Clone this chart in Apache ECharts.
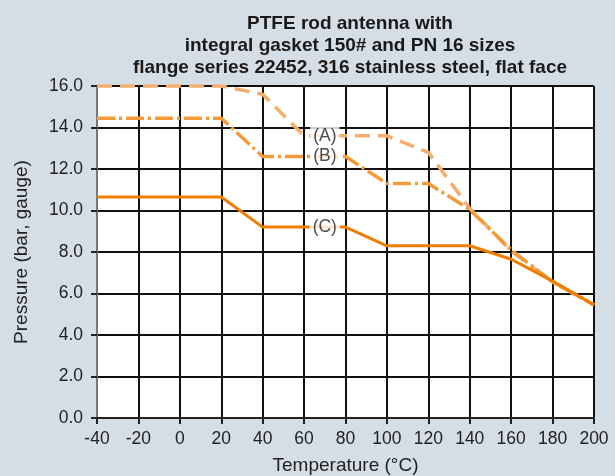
<!DOCTYPE html>
<html>
<head>
<meta charset="utf-8">
<script src="https://cdn.jsdelivr.net/npm/echarts@6/dist/echarts.min.js"></script>
<style>
  html, body { margin: 0; padding: 0; background: #d6dee5; }
  #chart { width: 615px; height: 476px; }
</style>
</head>
<body>
<div id="chart"></div>
<script>
// temperatures (°C) shared by all three curves
const temps = [-40, 20, 40, 60, 80, 100, 120, 140, 160, 180, 200]
// pressure (bar, gauge)
const curveA = [16.0, 16.0, 15.6, 13.6, 13.6, 13.6, 12.8, 10.1, 8.05, 6.55, 5.45]
const curveB = [14.45, 14.45, 12.6, 12.6, 12.6, 11.3, 11.3, 10.05, 8.1, 6.55, 5.45]
const curveC = [10.65, 10.65, 9.2, 9.2, 9.2, 8.3, 8.3, 8.3, 7.65, 6.6, 5.45]
// curve labels sit on the lines at 70 °C
const labelNames = ['(A)', '(B)', '(C)']
const labelTemp = 70
const labelPress = [13.6, 12.6, 9.2]

const titleText = 'PTFE rod antenna with\nintegral gasket 150# and PN 16 sizes\nflange series 22452, 316 stainless steel, flat face'

const toPairs = (ys) => temps.map((t, i) => [t, ys[i]])

const chart = echarts.init(document.getElementById('chart'))

const font = 'Liberation Sans, Arial, sans-serif'

chart.setOption({
  backgroundColor: '#d6dee5',
  animation: false,
  title: {
    text: titleText,
    left: 345,
    textAlign: 'center',
    top: 8,
    textStyle: { fontFamily: font, fontSize: 19, fontWeight: 'bold', color: '#1a1a1a', lineHeight: 22 }
  },
  grid: {
    left: 97,
    right: 21,
    top: 86,
    bottom: 58,
    outerBoundsMode: 'none',
    show: true,
    backgroundColor: '#fff',
    borderWidth: 0
  },
  xAxis: {
    type: 'value',
    min: -40,
    max: 200,
    interval: 20,
    name: 'Temperature (°C)',
    nameLocation: 'middle',
    nameGap: 38,
    nameTextStyle: { fontFamily: font, fontSize: 19, color: '#222' },
    axisLine: { show: true, lineStyle: { color: '#222', width: 2 } },
    axisTick: { show: true, length: 6, lineStyle: { color: '#222', width: 2 } },
    axisLabel: { fontFamily: font, fontSize: 17.5, color: '#222', margin: 12 },
    splitLine: { show: true, lineStyle: { color: '#111', width: 2 } }
  },
  yAxis: {
    type: 'value',
    min: 0,
    max: 16,
    interval: 2,
    name: 'Pressure (bar, gauge)',
    nameLocation: 'middle',
    nameRotate: 90,
    nameGap: 66,
    nameTextStyle: { fontFamily: font, fontSize: 19, color: '#222' },
    axisLine: { show: true, onZero: false, lineStyle: { color: '#777', width: 2 } },
    axisTick: { show: true, length: 6, lineStyle: { color: '#222', width: 2 } },
    axisLabel: {
      fontFamily: font, fontSize: 17.5, color: '#222', margin: 14,
      formatter: v => v.toFixed(1)
    },
    splitLine: { show: true, lineStyle: { color: '#111', width: 2 } }
  },
  series: [
    {
      name: 'A',
      type: 'line',
      data: toPairs(curveA),
      symbol: 'none',
      z: 3,
      lineStyle: { color: '#f5ad6c', width: 3.5, type: [15, 8] }
    },
    {
      name: 'B',
      type: 'line',
      data: toPairs(curveB),
      symbol: 'none',
      z: 4,
      lineStyle: { color: '#f39a3a', width: 3.5, type: [18, 4, 3, 4] }
    },
    {
      name: 'C',
      type: 'line',
      data: toPairs(curveC),
      symbol: 'none',
      z: 5,
      lineStyle: { color: '#ef7e00', width: 3 }
    },
    {
      // curve labels with a white patch that breaks the line
      type: 'scatter',
      symbolSize: 0,
      z: 10,
      data: labelNames.map((n, i) => ({ value: [labelTemp, labelPress[i]], name: n })),
      label: {
        show: true,
        position: 'inside',
        formatter: p => p.name,
        fontFamily: font,
        fontSize: 17.5,
        color: '#222',
        backgroundColor: '#fff',
        padding: [0, 3]
      }
    }
  ]
})
</script>
</body>
</html>
